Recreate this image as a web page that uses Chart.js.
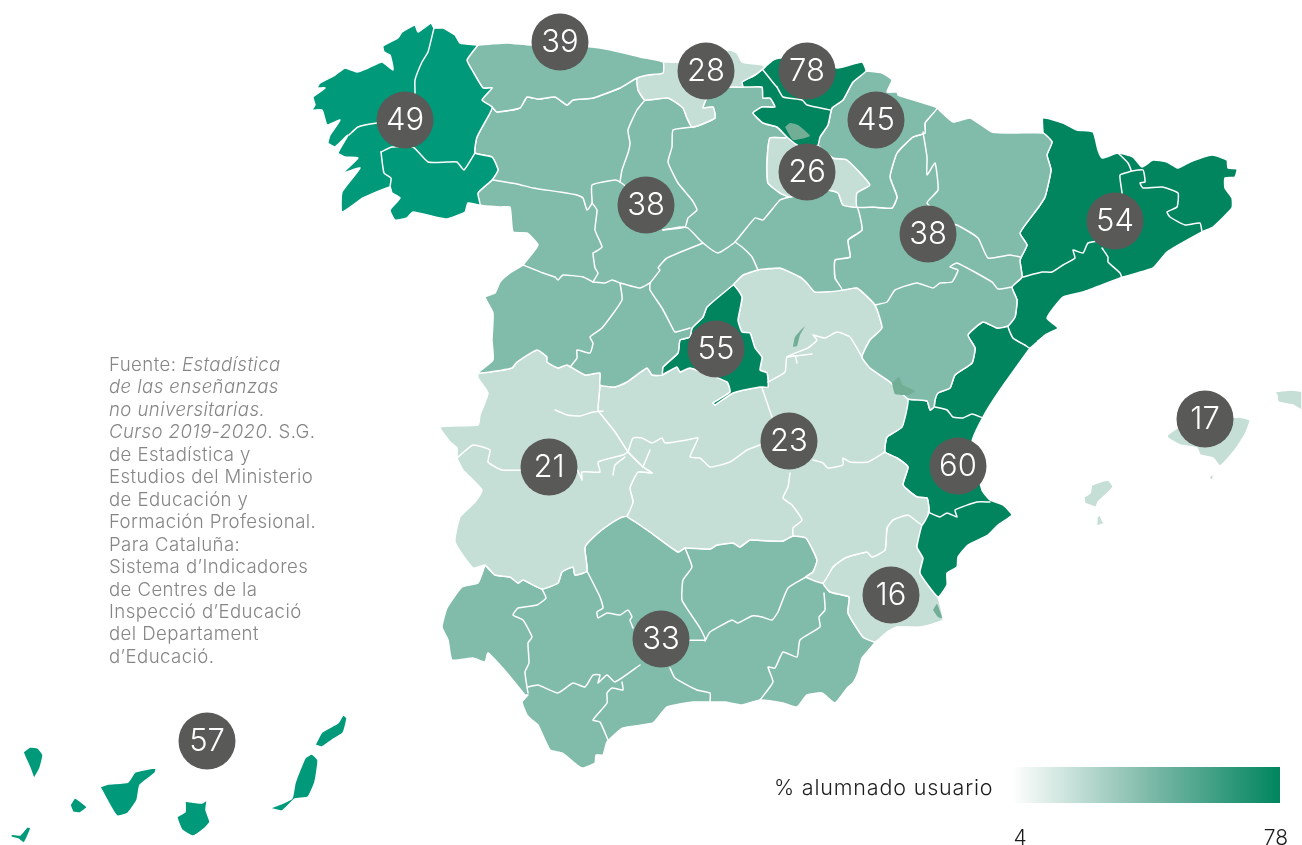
<!DOCTYPE html>
<html lang="es"><head><meta charset="utf-8">
<script src="https://cdn.jsdelivr.net/npm/chart.js@4/dist/chart.umd.min.js"></script>
<style>
html,body{margin:0;padding:0;background:#fff;overflow:hidden}
#wrap{position:relative;width:1302px;height:845px}
canvas{position:absolute;left:0;top:0}
#note{position:absolute;left:109px;top:353px;font:300 18.6px/22.45px Inter,sans-serif;color:#868686;white-space:nowrap;letter-spacing:.42px}
</style></head><body><div id="wrap"><canvas id="c" width="1302" height="845"></canvas>
<div id="note">Fuente: <i>Estadística<br>de las enseñanzas<br>no universitarias.<br>Curso 2019-2020</i>. S.G.<br>de Estadística y<br>Estudios del Ministerio<br>de Educación y<br>Formación Profesional.<br>Para Cataluña:<br>Sistema d’Indicadores<br>de Centres de la<br>Inspecció d’Educació<br>del Departament<br>d’Educació.</div></div>
<script>
// ---- chart values ----
const regions = ['Galicia','Asturias','Cantabria','País Vasco','Navarra','La Rioja','Castilla y León','Aragón','Cataluña','Madrid','Extremadura','Castilla-La Mancha','C. Valenciana','Illes Balears','Murcia','Andalucía','Canarias'];
const values  = [49,39,28,78,45,26,38,38,54,55,21,23,60,17,16,33,57];
const shades  = ['#009a7a','#81bbaa','#c5ded6','#00855f','#81bbaa','#c5ded6','#81bbaa','#81bbaa','#00855f','#00855f','#c5ded6','#c5ded6','#00855f','#c5ded6','#c5ded6','#81bbaa','#009a7a'];
const legendTitle = '% alumnado usuario';
const legendTicks = [4,78];

// ---- map geometry (map units on the x/y scales) ----
const galCoast='478,45 460,43 455,35 443,28 434,28 431,23 418,32 415,25 402,32 398,38 383,46 384,52 390,55 393,70 382,62 368,68 357,72 345,68 335,75 320,83 317,88 325,88 313,97 315,105 312,110 322,110 327,125 340,120 330,135 328,143 335,147 348,135 338,153 345,157 358,158 343,173 360,168 342,192 342,212 363,198 390,187 392,193 400,198 390,210 395,220 407,218 413,212 435,217 447,219 465,212 468,203 480,205';
const galEast='480,205 478,193 492,180 498,170 492,157 475,153 477,137 490,113 492,107 482,100 492,88 483,88 472,70 467,60 478,45';
const astCoast='478,45 507,43 530,45 560,45 600,48 628,54 640,57 663,62';
const astCant='663,62 663,73 648,75 637,78';
const astCyl='637,78 620,88 593,98 573,100 567,105 555,97 538,99 527,97 520,108 497,112 492,107';
const astGal='478,45 467,60 472,70 483,88 492,88 482,100 492,107';
const cantCoast='663,62 678,62 700,55 730,50 737,53 742,62 762,65 765,67';
const cantPv='765,67 755,75 742,82 743,87';
const cantCyl='743,87 733,87 722,88 707,98 703,108 713,107 715,118 700,125 692,127 687,118 683,108 668,98 645,100 638,90 637,78';
const pvCoast='765,67 773,60 780,58 810,55 837,68 862,62 866,71';
const pvNav='866,71 853,82 843,100 832,108 828,125 820,137 818,145';
const pvRioja='818,145 807,150 797,145 787,137';
const pvCyl='787,137 777,127 763,123 753,113 762,107 775,107 770,98 763,98 762,87 743,87';
const riojaCyl='787,137 785,138 770,138 767,163 768,183 780,193 790,197 827,190 838,193 843,205 857,207';
const riojaNav='818,145 833,158 847,160 870,185 857,193 857,207';
const navCoast='866,71 882,73 892,80 887,92 897,92 898,95 920,102 937,108';
const navAra='937,108 925,123 925,133 913,137 897,153 890,177 897,197 892,208 873,207 857,207';
const araCoast='937,108 953,122 970,118 992,132 1017,133 1043,133';
const araCat='1043,133 1052,142 1047,155 1051,170 1045,197 1038,208 1020,233 1027,245 1020,260 1022,277 1012,287 1017,300 1015,317 1008,326';
const araVal='1008,326 997,328 983,322 968,335 975,348 972,363 955,375 950,388 938,393 935,400 934,407 930,410 927,401 908,399';
const araClm='908,399 890,382 870,368 862,357 870,340 882,328 875,305 857,288 842,290';
const araCyl='842,290 835,278 835,260 850,257 848,240 862,230 857,207';
const catCoast='1043,133 1043,118 1063,123 1077,130 1093,132 1098,150 1102,158 1118,153 1133,157 1142,167 1153,160 1167,162 1178,168 1190,162 1212,155 1227,160 1228,168 1237,169 1235,177 1225,178 1225,188 1232,198 1232,208 1213,227 1202,232 1167,252 1153,268 1123,277 1083,292 1063,297 1047,318 1058,328 1045,335 1030,348';
const catVal='1030,348 1025,345 1013,338 1008,326';
const valCoast='1030,348 1000,390 983,417 972,442 982,490 990,500 1003,505 1012,515 998,525 988,535 968,545 958,557 957,567 947,573 947,585 938,597';
const valMur='938,597 920,573 923,558 917,547 922,525';
const valClm='922,525 929,512 927,498 917,497 903,485 908,467 897,458 885,452 887,437 902,427 908,399';
const murCoast='938,597 943,620 920,627 897,627 887,632 875,642';
const murAnd='875,642 863,637 848,613 849,597 830,592 823,583';
const murClm='823,583 833,567 845,558 867,552 872,557 885,550 887,528 893,520 908,515 922,525';
const andClm='823,583 806,577 813,572 817,560 806,538 793,536 783,541 772,541 750,540 740,547 733,543 717,545 710,549 685,548 678,552 650,532 637,523 627,516';
const andExt='627,516 622,517 613,522 598,533 585,547 587,571 575,575 573,567 562,572 558,583 542,589 523,580 518,583 510,577 495,575 485,565';
const andCoast='485,565 478,583 462,587 447,608 442,627 448,640 452,660 473,658 485,662 488,653 507,673 525,695 528,695 522,702 527,715 532,720 538,725 550,750 562,753 577,765 583,768 595,763 596,755 603,755 607,742 623,728 653,723 667,707 693,702 710,702 725,702 742,705 760,700 783,703 797,707 807,695 822,693 835,703 848,687 853,683 858,673 862,658 875,642';
const extClm='627,516 633,502 630,488 638,472 652,473 643,467 628,452 615,432 603,417 598,410 600,385';
const extCyl='600,385 600,373 585,375 567,365 558,368 547,362 547,357 537,350 517,362 512,368 490,372 478,373';
const extWest='478,373 478,378 488,393 480,415 478,425 440,427 450,442 457,448 457,458 463,470 482,490 475,502 460,517 455,542 473,568 485,565';
const clmCyl='600,385 615,387 627,382 647,368 652,375 662,375';
const mad='662,375 663,367 678,353 680,340 690,337 692,328 703,317 707,307 733,285';
const madClmSouth='662,375 677,367 680,372 690,368 727,382 730,392 713,403 715,405 733,393 760,387 768,387';
const madClmEast='768,387 767,373 760,370 762,357 755,348 750,333 742,332 738,320 742,297 733,285';
const guaCyl='733,285 743,275 758,270 780,268 800,277 807,283 815,292 842,290';
const cylWest='478,373 493,360 492,340 493,313 485,297 495,293 500,282 510,273 523,265 527,260 538,245 527,233 513,232 510,207 500,207 480,205';
const galCyl='480,205 478,193 492,180 498,170 492,157 475,153 477,137 490,113 492,107';

const canaryShapes=['23,752 30,747 38,748 43,755 40,768 34,778 30,768 25,757','70,805 75,798 87,807 80,813 73,812','100,787 108,784 128,782 135,772 156,768 155,773 140,785 137,800 128,813 117,816 107,800','11,834 20,835 27,827 31,828 24,843 18,839 11,837','185,801 202,803 207,800 206,810 210,822 205,828 193,836 182,830 177,817 185,812','270,808 283,803 292,798 295,783 305,758 312,754 318,760 315,782 308,797 295,799 282,811 272,809','315,745 322,732 338,723 343,715 347,718 343,733 332,740 322,747'];
const balearShapes=['1167,435 1177,428 1205,415 1228,402 1228,417 1240,417 1250,420 1247,430 1243,438 1235,450 1220,466 1213,458 1200,455 1197,448 1180,445 1168,438','1274,392 1290,390 1302,392 1302,410 1293,405 1278,402 1277,395','1209,477 1213,474 1213,479 1211,480','1084,497 1090,493 1092,485 1108,480 1113,487 1098,502 1096,507 1085,503','1097,517 1100,515 1103,522 1111,523 1103,524 1097,526'];

const provinceLines=[
'434,28 428,52 422,62 415,80 415,92 413,147','349,135 358,127 377,123 405,120','381,152 392,147 413,147 428,162 447,162 457,162 464,170 475,153','381,152 384,173 391,178 390,187',
'493,180 517,184 533,188 560,192 577,195 583,198 587,210 592,203 592,185 615,180 620,182 645,200','645,100 637,110 628,130 630,143 628,153 622,170 620,182',
'692,127 673,130 672,147 668,162 678,183 692,200 697,210 688,218 685,227 663,230','663,230 680,227 688,228 703,243 718,253 735,242 755,218 763,220 780,200 790,197','735,242 742,247 752,257 758,270','703,243 667,258 658,268 660,270 650,283','593,282 605,283 612,280 620,283 640,288 650,283','650,283 650,290 662,308 672,327 675,332 690,328','592,203 597,210 595,230 602,247 595,252 593,253 595,268 598,273 593,282','523,265 543,273 555,277 558,280 563,275 583,277 593,282','620,283 622,300 602,328 590,337 593,343 590,353 577,350 577,358 570,367',
'777,87 783,97 802,100 807,105 830,110','763,70 775,85 777,87',
'923,132 927,157 927,175 935,163 938,190 927,203 950,223 957,225 978,238 988,258 1010,255 1020,257','875,305 887,302 895,290 917,283 933,288 940,283 952,282 958,270 950,267 957,263 992,282 998,289 1012,287',
'1023,277 1042,272 1052,272 1063,265 1075,258 1073,250 1083,253 1088,243 1105,240','1102,248 1108,257 1108,262 1120,273 1122,278','1118,153 1128,163 1131,171 1120,175 1122,193 1120,210','1131,171 1143,170 1145,182 1140,183 1143,188 1162,187 1178,193 1177,207 1167,212 1170,217 1185,225 1200,223 1202,232','1038,341 1046,336 1045,341 1038,342',
'983,418 972,414 963,418 953,417 947,410 935,407','928,512 940,517 947,513 957,517 955,510 977,502 990,502',
'862,357 850,337 837,332 825,338 813,335 817,340 808,348 787,357 785,372 768,382','812,354 787,357 795,356 797,363','762,388 772,417','813,460 823,463 828,468 843,465 843,458 850,462 868,462 885,452','628,452 633,438 642,438 652,443 662,438 665,443 687,440 698,438 690,457 700,458 710,467 730,462 747,450 760,445','790,473 788,487 783,498 792,505 802,520 793,528 793,536',
'457,458 473,445 490,450 488,462 502,470 548,470 577,470 582,480 582,472 600,472 598,462 623,455 628,452','555,410 567,415 580,416 593,412 603,411','613,475 615,465 625,457','650,450 643,467',
'685,548 692,567 683,580 682,600 690,613 700,628 705,640 661,639','806,577 788,588 778,612 772,620 762,617 752,616 738,623 732,620 710,632 705,641','824,593 825,610 819,617 820,627 800,640 797,657 783,652 775,668 768,667 773,682 760,700','587,571 600,597 603,608 597,612 598,618 607,613 620,615 628,610 632,617 630,620 633,628','542,589 546,598 537,605 518,608 513,615 523,620 532,637 528,643 529,663 525,672 527,687 528,693','528,687 538,685 558,693 573,683 585,687 593,675 600,675 598,683 607,675 615,682 640,665','622,682 623,690 612,688 607,693 607,703 593,720 600,722 608,740','670,668 675,678 697,690 710,693 710,702'
];
const lakeShapes=['785,127 790,123 798,125 810,136 793,140','892,383 899,377 903,385 915,391 908,395 895,394','793,347 795,337 805,326 800,335 797,346','933,610 937,604 942,618 938,617'];

const bubbleX=[405,560,706,807,876,807,646,928,1115,716,549,789,958,1205,891,661,207];
const bubbleY=[120,42,71,71,120,172,205,234,221,349,467,441,466,419,595,639,741];

// ---- build ----
const pts=s=>s.trim().split(/\s+/).map(p=>{const [x,y]=p.split(',').map(Number);return{x,y}});
const rev=s=>pts(s).reverse();
const join=(...parts)=>{const out=[];parts.forEach(p=>{const a=typeof p==='string'?pts(p):p;a.forEach(q=>{const l=out[out.length-1];if(!l||l.x!==q.x||l.y!==q.y)out.push(q)})});out.push(out[0]);return out};
const outline={
 'Galicia':[join(galCoast,galEast)],
 'Asturias':[join(astCoast,astCant,astCyl,rev(astGal))],
 'Cantabria':[join(cantCoast,cantPv,cantCyl,rev(astCant))],
 'País Vasco':[join(pvCoast,pvNav,pvRioja,pvCyl,rev(cantPv))],
 'Navarra':[join(navCoast,navAra,rev(riojaNav),rev(pvNav))],
 'La Rioja':[join(riojaNav,rev(riojaCyl),rev(pvRioja))],
 'Castilla y León':[join(rev(astCyl),rev(cantCyl),rev(pvCyl),riojaCyl,rev(araCyl),rev(guaCyl),rev(mad),rev(clmCyl),extCyl,cylWest,galCyl)],
 'Aragón':[join(araCoast,araCat,araVal,araClm,araCyl,rev(navAra))],
 'Cataluña':[join(catCoast,catVal,rev(araCat))],
 'Madrid':[join(mad,rev(madClmEast),rev(madClmSouth))],
 'Extremadura':[join(rev(extCyl),rev(extClm),andExt,rev(extWest))],
 'Castilla-La Mancha':[join(clmCyl,madClmSouth,madClmEast,guaCyl,rev(araClm),rev(valClm),rev(murClm),andClm,extClm)],
 'C. Valenciana':[join(valCoast,valMur,valClm,rev(araVal),rev(catVal))],
 'Murcia':[join(murCoast,murAnd,murClm,rev(valMur))],
 'Andalucía':[join(rev(andExt),rev(andClm),rev(murAnd),rev(andCoast))],
 'Canarias':canaryShapes.map(s=>join(s)),
 'Illes Balears':balearShapes.map(s=>join(s))
};
const datasets=[{type:'bubble',order:0,label:'% alumnado usuario',data:values.map((v,i)=>({x:bubbleX[i],y:bubbleY[i],r:28.5})),backgroundColor:'#595957',borderWidth:0,hoverRadius:0}];
const line=(data,extra)=>Object.assign({type:'scatter',showLine:true,data,pointRadius:0,pointHoverRadius:0,tension:0.15,borderJoinStyle:'round',borderCapStyle:'round'},extra);
lakeShapes.forEach(s=>datasets.push(line(join(s),{order:1,fill:'shape',backgroundColor:'#72ad96',borderColor:'#72ad96',borderWidth:0})));
provinceLines.forEach(s=>datasets.push(line(pts(s),{order:2,fill:false,borderColor:'#fff',borderWidth:1.5})));
regions.forEach((n,i)=>outline[n].forEach(d=>datasets.push(line(d,{order:3,label:n,fill:'shape',backgroundColor:shades[i],borderColor:'#fff',borderWidth:1.5}))));
const font=(w,s)=>`${w} ${s}px Inter, sans-serif`;
const labelsPlugin={id:'labels',afterDatasetsDraw(ch){
 const c=ch.ctx,m=ch.getDatasetMeta(0);
 c.save();c.textAlign='center';c.textBaseline='middle';c.fillStyle='#fff';c.font=font(300,31);
 m.data.forEach((e,i)=>c.fillText(String(values[i]),e.x,e.y+1));
 const g=c.createLinearGradient(1012,0,1280,0);g.addColorStop(0,'#ffffff');g.addColorStop(.5,'#81bbaa');g.addColorStop(1,'#00855f');
 c.fillStyle=g;c.fillRect(1012,767,268,36);
 c.fillStyle='#1c1c1c';c.font=font(300,21.5);c.letterSpacing='0.82px';c.textAlign='left';c.fillText(legendTitle,774,789);
 c.letterSpacing='0px';c.font=font(300,21);c.textAlign='center';c.fillText(String(legendTicks[0]),1020,839);c.fillText(String(legendTicks[1]),1276,839);
 c.restore();
}};
new Chart(document.getElementById('c'),{type:'scatter',data:{datasets},plugins:[labelsPlugin],options:{
 responsive:false,animation:false,events:[],layout:{padding:0,autoPadding:false},
 plugins:{legend:{display:false},tooltip:{enabled:false},title:{display:false}},
 scales:{x:{type:'linear',display:false,min:0,max:1302},y:{type:'linear',display:false,min:0,max:845,reverse:true}}
}});
</script></body></html>
